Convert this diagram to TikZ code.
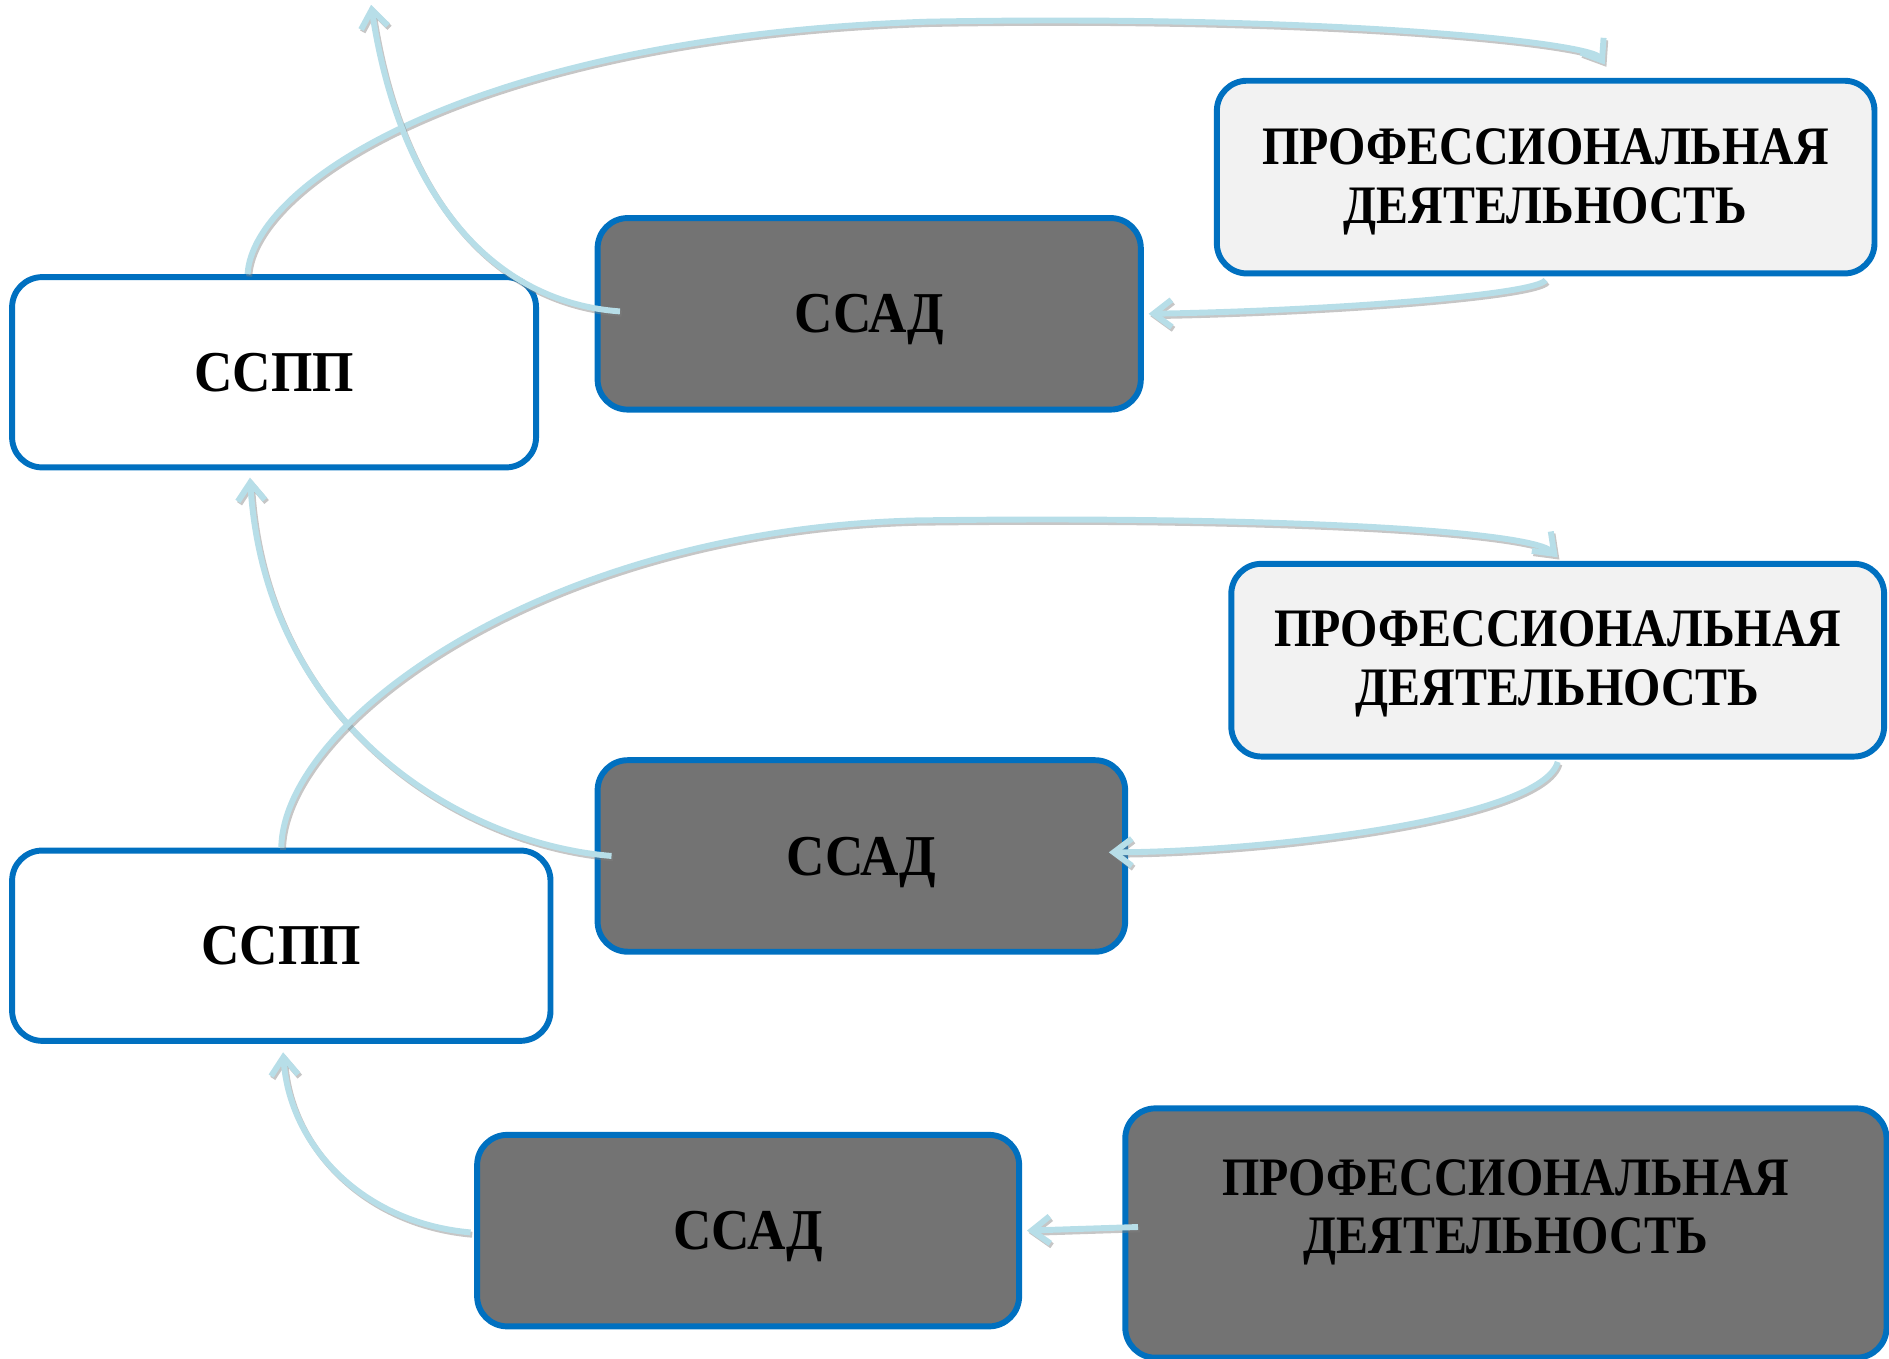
\documentclass[tikz,border=0pt]{standalone}
\usepackage{fontspec}
\setmainfont{Liberation Serif}[FakeStretch=0.885]
\newfontfamily\shortlabfont{Liberation Serif}[FakeStretch=0.92]
\usetikzlibrary{arrows.meta,calc}
\definecolor{bord}{HTML}{0070C0}
\definecolor{dark}{HTML}{737373}
\definecolor{light}{HTML}{F2F2F2}
\definecolor{arr}{HTML}{B7DEE8}
\begin{document}
\begin{tikzpicture}[x=0.02cm,y=-0.02cm,
 boxfont/.style={font=\fontsize{25.6}{27.5}\selectfont\bfseries, align=center},
 shortfont/.style={font=\shortlabfont\fontsize{27.3}{29}\selectfont\bfseries},
 box/.style={draw=bord, line width=2.8pt, rounded corners=0.5cm, boxfont, inner sep=0pt},
 whitebox/.style={box, shortfont, fill=white},
 darkbox/.style={box, shortfont, fill=dark},
 lightbox/.style={box, fill=light},
 link/.style={draw=arr, line width=2.8pt, -{Straight Barb[length=0.3cm,width=0.45cm]},
   preaction={draw=black!50, opacity=0.45, line width=2.8pt, transform canvas={shift={(0.8pt,-1.1pt)}}}},
]
\useasboundingbox (0,0) rectangle (1568,1128);

\node[whitebox, minimum width=8.7cm, minimum height=3.16cm] (sspp1) at (227.5,309) {ССПП};
\node[darkbox, text depth=0pt, minimum width=9.02cm, minimum height=3.18cm] (ssad1) at (721.5,260.5) {ССАД};
\node[lightbox, minimum width=10.92cm, minimum height=3.2cm,
  label={[boxfont, yshift=-0.08cm]center:{ПРОФЕССИОНАЛЬНАЯ\\ДЕЯТЕЛЬНОСТЬ}}] (pd1) at (1283,147) {};
\node[lightbox, minimum width=10.84cm, minimum height=3.2cm,
  label={[boxfont, yshift=-0.06cm]center:{ПРОФЕССИОНАЛЬНАЯ\\ДЕЯТЕЛЬНОСТЬ}}] (pd2) at (1293,548) {};
\node[darkbox, text depth=0pt, minimum width=8.76cm, minimum height=3.18cm] (ssad2) at (715,710.5) {ССАД};
\node[whitebox, minimum width=8.94cm, minimum height=3.16cm] (sspp2) at (233.5,785) {ССПП};
\node[darkbox, text depth=0pt, minimum width=9.0cm, minimum height=3.18cm] (ssad3) at (621,1021.5) {ССАД};
\node[box, fill=dark, minimum width=12.64cm, minimum height=4.14cm,
  label={[boxfont, yshift=0.34cm]center:{ПРОФЕССИОНАЛЬНАЯ\\ДЕЯТЕЛЬНОСТЬ}}] (pd3) at (1250,1023.5) {};

\coordinate (top2) at (308,4);

\draw[link] ($(sspp1.north)+(-22,0)$) .. controls (210,150) and (400,30) .. (770,18) .. controls (1100,12) and (1320,35) .. ($(pd1.north)+(49,-11)$);
\draw[link] ($(ssad1.west)+(21,-2)$) .. controls (400,250) and (330,150) .. (top2);
\draw[link] ($(pd1.south)+(0,3)$) .. controls (1275,245) and (1100,258) .. ($(ssad1.east)+(4,0)$);
\draw[link] ($(ssad2.west)+(14,0)$) .. controls (380,700) and (220,600) .. ($(sspp1.south)+(-20,6)$);
\draw[link] (sspp2.north) .. controls (235,600) and (450,440) .. (760,432) .. controls (1050,428) and (1270,440) .. ($(pd2.north)+(0,-3)$);
\draw[link] ($(pd2.south)+(0,2)$) .. controls (1280,680) and (1050,707) .. ($(ssad2.east)+(-16,-3)$);
\draw[link] ($(ssad3.west)+(-3,1.5)$) .. controls (300,1015) and (240,950) .. ($(sspp2.south)+(1.5,7)$);
\draw[link] ($(pd3.west)+(13,-5)$) -- ($(ssad3.east)+(4,0)$);
\end{tikzpicture}
\end{document}
